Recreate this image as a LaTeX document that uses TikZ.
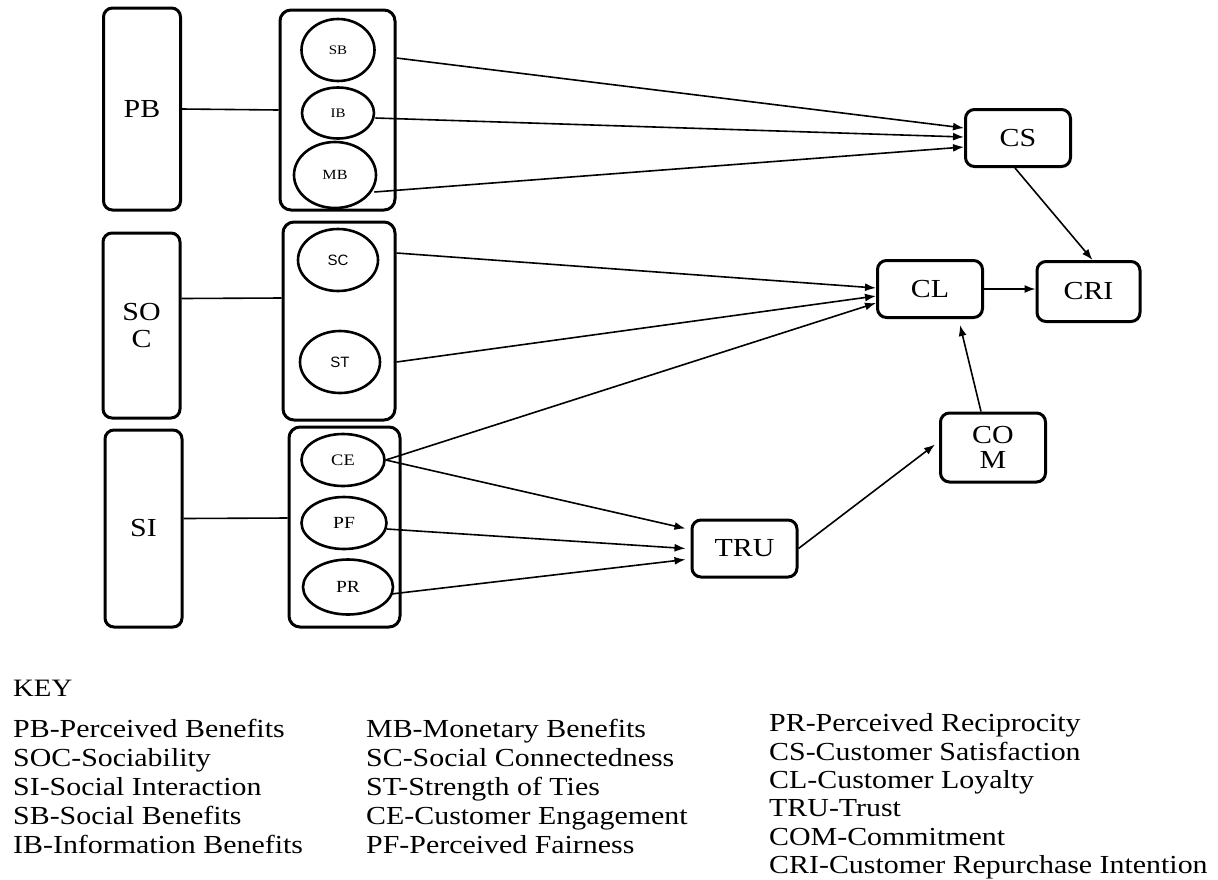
\documentclass[tikz,border=0pt]{standalone}
\usepackage{fontspec}
\setmainfont{Liberation Serif}[FakeStretch=1.15]
\setsansfont{Liberation Sans}
\usepackage{tikz}
\usetikzlibrary{positioning,arrows.meta,shapes.geometric,calc}
\tikzset{
  bigbox/.style={rectangle,rounded corners=9pt,draw=black,line width=3pt,align=center,minimum width=77pt,inner sep=0pt,font=\fontsize{26}{27}\selectfont},
  grpbox/.style={rectangle,rounded corners=11pt,draw=black,line width=3pt,inner sep=0pt},
  dim/.style={ellipse,draw=black,line width=2.6pt,inner sep=0pt},
  ctr/.style={rectangle,rounded corners=9pt,draw=black,line width=3pt,align=center,minimum width=105pt,minimum height=57pt,inner sep=0pt,font=\fontsize{26}{25}\selectfont},
  keytext/.style={align=left,inner sep=0pt,anchor=north west,font=\fontsize{26}{29}\selectfont},
  link/.style={line width=1.6pt},
  edge/.style={-{Latex[length=11pt,width=8pt]},line width=1.6pt}
}

\begin{document}
\begin{tikzpicture}[x=1pt,y=-1pt]
  \useasboundingbox (0,0) rectangle (1218,879);
  % antecedent constructs
  \node[bigbox,minimum height=202pt] (pb) at (142,109) {PB};
  \node[bigbox,minimum height=185pt] (soc) at (141.5,325.5) {SO\\C};
  \node[bigbox,minimum height=197pt] (si) at (143.5,528.5) {SI};
  % dimension groups
  \node[grpbox,minimum width=115pt,minimum height=200pt] (pbgrp) at (337.5,110) {};
  \node[grpbox,minimum width=112pt,minimum height=198pt] (socgrp) at (339,321) {};
  \node[grpbox,minimum width=111pt,minimum height=200pt] (sigrp) at (344.5,527) {};
  \node[dim,minimum width=73pt,minimum height=62pt,font=\fontsize{13}{13}\selectfont] (sb) at (338,50) {SB};
  \node[dim,minimum width=72pt,minimum height=51pt,font=\fontsize{13}{13}\selectfont] (ib) at (338,113) {IB};
  \node[dim,minimum width=82pt,minimum height=66pt,font=\fontsize{14}{14}\selectfont] (mb) at (335,175) {MB};
  \node[dim,minimum width=80pt,minimum height=62pt,font=\sffamily\fontsize{15}{15}\selectfont] (sc) at (338,260) {SC};
  \node[dim,minimum width=80pt,minimum height=62pt,font=\sffamily\fontsize{15}{15}\selectfont] (st) at (340,362) {ST};
  \node[dim,minimum width=83pt,minimum height=52pt,font=\fontsize{16}{16}\selectfont] (ce) at (343,460) {CE};
  \node[dim,minimum width=85pt,minimum height=52pt,font=\fontsize{17}{17}\selectfont] (pf) at (344,523) {PF};
  \node[dim,minimum width=90pt,minimum height=55pt,font=\fontsize{17}{17}\selectfont] (pr) at (348,587) {PR};
  % outcome constructs
  \node[ctr] (cs) at (1018,138) {CS};
  \node[ctr] (cl) at (930,289) {CL};
  \node[ctr,minimum width=103pt,minimum height=60pt] (cri) at (1088.5,291.5) {CRI};
  \node[ctr,minimum height=69pt] (com) at (993,447.5) {CO\\M};
  \node[ctr,minimum width=105pt] (tru) at (744.5,548.5) {TRU};
  % links to groups
  \draw[link] (pb.east) -- (pbgrp.west);
  \draw[link] ([yshift=27pt]soc.east) -- ([yshift=23pt]socgrp.west);
  \draw[link] ([yshift=10pt]si.east) -- ([yshift=9pt]sigrp.west);
  % paths
  \draw[edge] (pbgrp.east |- sb.center) ++(0,8) -- ([yshift=10pt]cs.west);
  \draw[edge] (ib.east) ++(0,5) -- ([yshift=1pt]cs.west);
  \draw[edge] (mb.east) ++(-3,17) -- ([yshift=-9pt]cs.west);
  \draw[edge] (socgrp.east |- sc.center) ++(0,-7) -- ([yshift=1pt]cl.west);
  \draw[edge] (socgrp.east |- st.center) -- ([yshift=-7pt]cl.west);
  \draw[edge] (ce.east) -- ([yshift=-14pt]cl.west);
  \draw[edge] (ce.east) -- ([xshift=-5pt,yshift=20pt]tru.west);
  \draw[edge] (pf.east) ++(-1,6) -- ([xshift=-5pt]tru.west);
  \draw[edge] (pr.east) ++(-3,7) -- ([xshift=-5pt,yshift=-11pt]tru.west);
  \draw[edge] (tru.east) -- ([xshift=-4pt,yshift=3pt]com.west);
  \draw[edge] ([xshift=-12pt]com.north) -- ([xshift=30pt,yshift=-6pt]cl.south);
  \draw[edge] (cl.east) -- (cl.east -| cri.west);
  \draw[edge] ([xshift=-3pt]cs.south) -- ([xshift=4pt]cri.north);
  % key
  \node[keytext,font=\fontsize{25}{25}\selectfont] (key) at (13,680) {KEY};
  \node[keytext] (keya) at (13,718.5) {PB-Perceived Benefits\\SOC-Sociability\\SI-Social Interaction\\SB-Social Benefits\\IB-Information Benefits};
  \node[keytext] (keyb) at (366,718.5) {MB-Monetary Benefits\\SC-Social Connectedness\\ST-Strength of Ties\\CE-Customer Engagement\\PF-Perceived Fairness};
  \node[keytext,font=\fontsize{26}{28.4}\selectfont] (keyc) at (769,713.5) {PR-Perceived Reciprocity\\CS-Customer Satisfaction\\CL-Customer Loyalty\\TRU-Trust\\COM-Commitment\\CRI-Customer Repurchase Intention};
\end{tikzpicture}
\end{document}
